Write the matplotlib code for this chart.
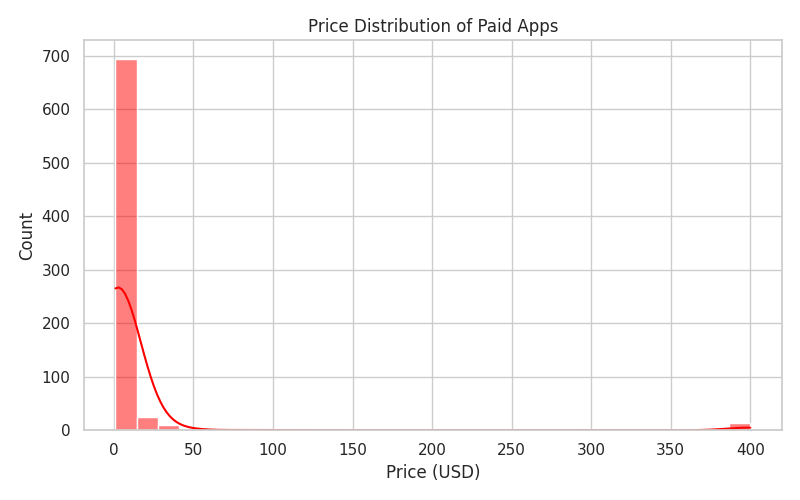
import matplotlib
matplotlib.use("Agg")
import matplotlib.pyplot as plt
import numpy as np
import pandas as pd
import seaborn as sns

# app prices (USD) and how many paid apps have each price
prices = [0.99, 1.99, 2.99, 3.99, 4.99, 5.99, 6.99, 7.99, 9.99, 12.99,
          14.99, 16.99, 19.99, 24.99, 29.99, 33.99, 39.99,
          46.99, 79.99, 109.99, 399.99, 389.99]
counts = [300, 150, 120, 50, 35, 10, 8, 6, 10, 5,
          9, 4, 7, 5, 5, 2, 3,
          1, 1, 1, 12, 1]

df = pd.DataFrame({"Price": np.repeat(prices, counts)})

sns.set_theme(style="whitegrid")
fig, ax = plt.subplots(figsize=(8, 5), dpi=100)
sns.histplot(df["Price"], bins=30, kde=True, color="red", ax=ax)
ax.set_title("Price Distribution of Paid Apps")
ax.set_xlabel("Price (USD)")
ax.set_ylabel("Count")
fig.tight_layout()
plt.savefig("out.png")
